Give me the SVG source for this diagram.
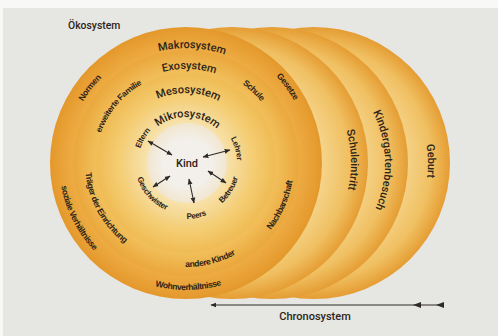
<svg xmlns="http://www.w3.org/2000/svg" width="498" height="336" viewBox="0 0 498 336">
<style>
.sys{font-family:Roboto,"Liberation Sans",Arial,sans-serif;font-size:11px;font-weight:500;fill:#2e2418}
.lbl{font-family:"Liberation Sans",Arial,sans-serif;font-size:8.6px;font-weight:bold;letter-spacing:-0.45px;fill:#2e2418}
.mik{font-family:"Liberation Sans",Arial,sans-serif;font-size:8px;font-weight:bold;letter-spacing:-0.3px;fill:#2e2418}
.chr{font-family:Roboto,"Liberation Sans",Arial,sans-serif;font-size:11px;font-weight:500;fill:#2e2418}
.arr{stroke:#2e2a26;stroke-width:1.1;fill:none}
</style>
<defs>
<radialGradient id="gBack" cx="50%" cy="50%" r="50%"><stop offset="0.62" stop-color="#f6d894"/><stop offset="0.86" stop-color="#f0c062"/><stop offset="1" stop-color="#e59d33"/></radialGradient>
<radialGradient id="gMakro" cx="50%" cy="50%" r="50%"><stop offset="0.82" stop-color="#eead45"/><stop offset="1" stop-color="#e4982b"/></radialGradient>
<radialGradient id="gExo" cx="50%" cy="50%" r="50%"><stop offset="0.78" stop-color="#f2c15d"/><stop offset="1" stop-color="#eaa73c"/></radialGradient>
<radialGradient id="gMeso" cx="50%" cy="50%" r="50%"><stop offset="0.68" stop-color="#f6d27c"/><stop offset="1" stop-color="#efbb53"/></radialGradient>
<radialGradient id="gMikro" cx="50%" cy="50%" r="50%"><stop offset="0.62" stop-color="#f8e3ad"/><stop offset="1" stop-color="#f3d07e"/></radialGradient>
<radialGradient id="gKind" cx="50%" cy="50%" r="50%"><stop offset="0.6" stop-color="#f3f0eb"/><stop offset="1" stop-color="#f1e6cf"/></radialGradient>
<marker id="ah" viewBox="0 0 10 10" refX="9" refY="5" markerWidth="6" markerHeight="6" markerUnits="userSpaceOnUse" orient="auto-start-reverse"><path d="M0,1 L10,5 L0,9 z" fill="#2e2a26"/></marker>
<path id="t115" d="M71,163 A115,115 0 0 1 301,163"/>
<path id="t94" d="M92,163 A94,94 0 0 1 280,163"/>
<path id="t70" d="M116,163 A70,70 0 0 1 256,163"/>
<path id="t46" d="M140,163 A46,46 0 0 1 232,163"/>
<path id="t120" d="M66,163 A120,120 0 0 1 306,163"/>
<path id="t90" d="M96,163 A90,90 0 0 1 276,163"/>
<path id="t48" d="M138,163 A48,48 0 0 1 234,163"/>
<path id="t51" d="M135,163 A51,51 0 0 1 237,163"/>
<path id="t97" d="M89,163 A97,97 0 0 1 283,163"/>
<path id="t125" d="M61,163 A125,125 0 0 1 311,163"/>
<path id="b54" d="M132,163 A54,54 0 0 0 240,163"/>
<path id="b56" d="M130,163 A56,56 0 0 0 242,163"/>
<path id="b51" d="M135,163 A51,51 0 0 0 237,163"/>
<path id="b108" d="M78,163 A108,108 0 0 0 294,163"/>
<path id="b101" d="M85,163 A101,101 0 0 0 287,163"/>
<path id="b127" d="M59,163 A127,127 0 0 0 313,163"/>
<path id="b104" d="M82,163 A104,104 0 0 0 290,163"/>
<path id="cS" d="M232,44 A119,119 0 0 1 232,282"/>
<path id="cK" d="M272,50 A113,113 0 0 1 272,276"/>
<path id="cG" d="M314,49 A114,114 0 0 1 314,277"/>
</defs>

<rect width="498" height="336" fill="#f8f8f7"/>
<rect x="3" y="8" width="495" height="328" fill="#e6e6e3"/>

<text class="chr" x="68" y="29" style="font-size:10.4px">Ökosystem</text>

<g id="chrono-geburt">
<circle cx="314" cy="163" r="136" fill="url(#gBack)"/>
<text class="sys" transform="rotate(-1 314 163)"><textPath href="#cG" startOffset="50%" text-anchor="middle">Geburt</textPath></text>
</g>
<g id="chrono-kindergarten">
<circle cx="272" cy="163" r="136" fill="url(#gBack)"/>
<text class="sys" transform="rotate(-1.5 272 163)"><textPath href="#cK" startOffset="50%" text-anchor="middle">Kindergartenbesuch</textPath></text>
</g>
<g id="chrono-schule">
<circle cx="232" cy="163" r="136" fill="url(#gBack)"/>
<text class="sys" transform="rotate(-1.5 232 163)"><textPath href="#cS" startOffset="50%" text-anchor="middle">Schuleintritt</textPath></text>
</g>

<g id="makrosystem">
<circle cx="186" cy="163" r="136" fill="url(#gMakro)"/>
<text class="sys" transform="rotate(3 186 163)"><textPath href="#t115" startOffset="50%" text-anchor="middle">Makrosystem</textPath></text>
<text class="lbl" transform="rotate(-52 186 163)"><textPath href="#t120" startOffset="50%" text-anchor="middle">Normen</textPath></text>
<text class="lbl" transform="rotate(53 186 163)"><textPath href="#t125" startOffset="50%" text-anchor="middle">Gesetze</textPath></text>
<text class="lbl" transform="rotate(63 186 163)"><textPath href="#b127" startOffset="50%" text-anchor="middle">soziale Verhältnisse</textPath></text>
<text class="lbl" transform="rotate(-1 186 163)"><textPath href="#b127" startOffset="50%" text-anchor="middle">Wohnverhältnisse</textPath></text>
</g>

<g id="exosystem">
<circle cx="186" cy="163" r="113" fill="url(#gExo)"/>
<text class="sys" transform="rotate(2 186 163)"><textPath href="#t94" startOffset="50%" text-anchor="middle">Exosystem</textPath></text>
<text class="lbl" transform="rotate(-50 186 163)"><textPath href="#t90" startOffset="50%" text-anchor="middle">erweiterte Familie</textPath></text>
<text class="lbl" transform="rotate(43 186 163)"><textPath href="#t97" startOffset="50%" text-anchor="middle">Schule</textPath></text>
<text class="lbl" transform="rotate(-66 186 163)"><textPath href="#b108" startOffset="50%" text-anchor="middle">Nachbarschaft</textPath></text>
<text class="lbl" transform="rotate(61 186 163)"><textPath href="#b101" startOffset="50%" text-anchor="middle">Träger der Einrichtung</textPath></text>
<text class="lbl" transform="rotate(-14 186 163)"><textPath href="#b104" startOffset="50%" text-anchor="middle">andere Kinder</textPath></text>
</g>

<g id="mesosystem">
<circle cx="186" cy="163" r="90" fill="url(#gMeso)"/>
<text class="sys" transform="rotate(2 186 163)"><textPath href="#t70" startOffset="50%" text-anchor="middle">Mesosystem</textPath></text>
</g>

<g id="mikrosystem">
<circle cx="186" cy="163" r="63" fill="url(#gMikro)"/>
<text class="sys" transform="rotate(2 186 163)"><textPath href="#t46" startOffset="50%" text-anchor="middle">Mikrosystem</textPath></text>
<text class="mik" transform="rotate(-60 186 163)"><textPath href="#t48" startOffset="50%" text-anchor="middle">Eltern</textPath></text>
<text class="mik" transform="rotate(74 186 163)"><textPath href="#t51" startOffset="50%" text-anchor="middle">Lehrer</textPath></text>
<text class="mik" transform="rotate(-58 186 163)"><textPath href="#b54" startOffset="50%" text-anchor="middle">Betreuer</textPath></text>
<text class="mik" transform="rotate(-11 186 163)"><textPath href="#b56" startOffset="50%" text-anchor="middle">Peers</textPath></text>
<text class="mik" transform="rotate(48 186 163)"><textPath href="#b51" startOffset="50%" text-anchor="middle">Geschwister</textPath></text>
</g>

<g id="kind">
<circle cx="187" cy="163" r="40" fill="url(#gKind)"/>
<text class="sys" x="187" y="167" text-anchor="middle">Kind</text>
</g>

<g id="connectors">
<line class="arr" x1="148" y1="141" x2="172" y2="155" marker-start="url(#ah)" marker-end="url(#ah)"/>
<line class="arr" x1="203" y1="157" x2="230" y2="150" marker-start="url(#ah)" marker-end="url(#ah)"/>
<line class="arr" x1="208" y1="171" x2="226" y2="183" marker-start="url(#ah)" marker-end="url(#ah)"/>
<line class="arr" x1="189" y1="179" x2="194" y2="203" marker-start="url(#ah)" marker-end="url(#ah)"/>
<line class="arr" x1="170" y1="176" x2="153" y2="187" marker-start="url(#ah)" marker-end="url(#ah)"/>
<line class="arr" x1="442" y1="305" x2="211" y2="305" marker-end="url(#ah)"/>
<path d="M413,305 L421,302 L421,308 z" fill="#2e2a26"/>
<path d="M436,305 L444,302 L444,308 z" fill="#2e2a26"/>
</g>

<text class="chr" x="315" y="320" text-anchor="middle">Chronosystem</text>
</svg>
